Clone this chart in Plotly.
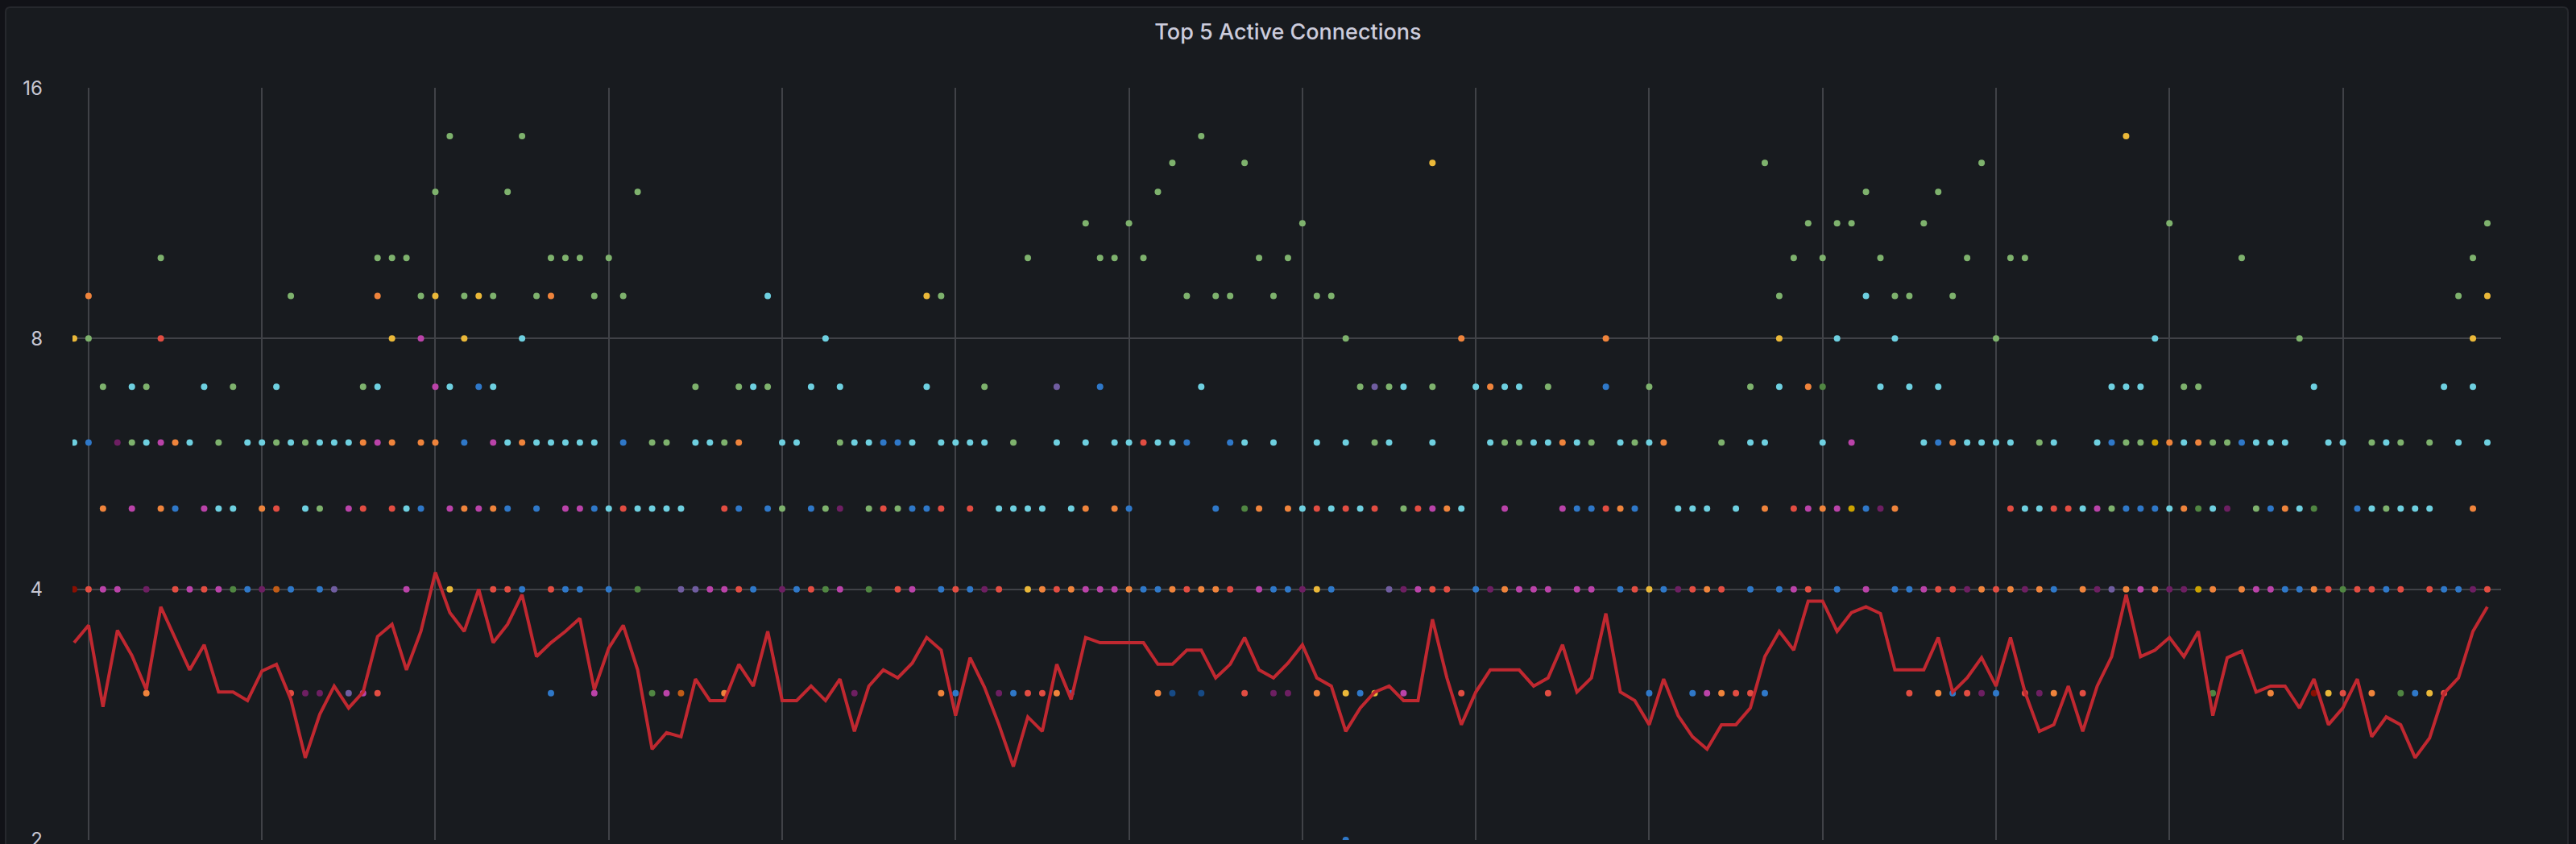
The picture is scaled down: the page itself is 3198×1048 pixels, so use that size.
import math

import pandas as pd
import plotly.graph_objects as go

TITLE = "Top 5 Active Connections"
START = "2024-05-14 09:55"
STEP = "5min"
N_SAMPLES = 168

# the one series that stays in the top 5 the whole time (drawn as a line)
line_values = [
    3.45, 3.62, 2.89, 3.57, 3.33, 3.03, 3.81, 3.49, 3.20, 3.43, 3.01, 3.01, 2.94, 3.19, 3.25, 2.95, 2.51, 2.83, 3.06, 2.88, 3.01,
    3.51, 3.63, 3.20, 3.56, 4.19, 3.75, 3.56, 4.00, 3.45, 3.63, 3.94, 3.32, 3.45, 3.56, 3.69, 3.03, 3.40, 3.62, 3.20, 2.57, 2.69,
    2.66, 3.12, 2.94, 2.94, 3.25, 3.06, 3.56, 2.94, 2.94, 3.06, 2.94, 3.12, 2.70, 3.06, 3.20, 3.13, 3.26, 3.50, 3.38, 2.82, 3.31,
    3.05, 2.75, 2.45, 2.81, 2.70, 3.25, 2.95, 3.50, 3.45, 3.45, 3.45, 3.45, 3.25, 3.25, 3.38, 3.38, 3.13, 3.25, 3.50, 3.20, 3.13,
    3.26, 3.43, 3.13, 3.06, 2.70, 2.88, 3.01, 3.06, 2.94, 2.94, 3.68, 3.13, 2.75, 3.01, 3.20, 3.20, 3.20, 3.06, 3.13, 3.43, 3.01,
    3.13, 3.74, 3.01, 2.94, 2.75, 3.12, 2.82, 2.66, 2.57, 2.75, 2.75, 2.88, 3.32, 3.56, 3.38, 3.87, 3.87, 3.56, 3.75, 3.81, 3.74,
    3.20, 3.20, 3.20, 3.50, 3.01, 3.13, 3.31, 3.06, 3.50, 3.01, 2.70, 2.75, 3.06, 2.70, 3.06, 3.32, 3.94, 3.32, 3.38, 3.50, 3.32,
    3.56, 2.82, 3.31, 3.37, 3.01, 3.06, 3.06, 2.88, 3.12, 2.75, 2.88, 3.12, 2.66, 2.81, 2.75, 2.51, 2.65, 3.00, 3.13, 3.56, 3.81,
]

# connections that only show up now and then: sample index -> value
green = {
    1: 8, 2: 7, 4: 6, 5: 7, 6: 10, 10: 6, 11: 7, 14: 6, 15: 9, 16: 6, 17: 5, 20: 7, 21: 10, 22: 10, 23: 10,
    24: 9, 25: 12, 26: 14, 27: 9, 29: 9, 30: 12, 31: 14, 32: 9, 33: 10, 34: 10, 35: 10, 36: 9, 37: 10, 38: 9,
    39: 12, 40: 6, 41: 6, 43: 7, 45: 6, 46: 7, 48: 7, 49: 5, 52: 5, 53: 6, 55: 5, 57: 5, 60: 9, 63: 7, 65: 6,
    66: 10, 70: 11, 71: 10, 72: 10, 73: 11, 74: 10, 75: 12, 76: 13, 77: 9, 78: 14, 79: 9, 80: 9, 81: 13, 82: 10,
    83: 9, 84: 10, 85: 11, 86: 9, 87: 9, 88: 8, 89: 7, 90: 6, 91: 7, 92: 5, 94: 7, 99: 6, 100: 6, 102: 7,
    105: 6, 108: 6, 109: 7, 114: 6, 116: 7, 117: 13, 118: 9, 119: 10, 120: 11, 121: 10, 122: 11, 123: 11,
    124: 12, 125: 10, 126: 9, 127: 9, 128: 11, 129: 12, 130: 9, 131: 10, 132: 13, 133: 8, 134: 10, 135: 10,
    136: 6, 141: 5, 142: 6, 143: 6, 145: 11, 146: 7, 147: 7, 148: 6, 149: 6, 150: 10, 151: 5, 154: 8, 159: 6,
    160: 5, 161: 6, 163: 6, 165: 9, 166: 10, 167: 11,
}
yellow = {
    0: 8, 22: 8, 25: 9, 26: 4, 27: 8, 28: 9, 59: 9, 66: 4, 86: 4, 88: 3, 90: 3, 94: 13, 109: 4, 118: 8,
    142: 14, 156: 3, 163: 3, 166: 8, 167: 9,
}
light_blue = {
    0: 6, 4: 7, 5: 6, 8: 6, 9: 7, 10: 5, 11: 5, 12: 6, 13: 6, 14: 7, 15: 6, 16: 5, 17: 6, 18: 6, 19: 6, 21: 7,
    23: 5, 26: 7, 29: 7, 30: 6, 31: 8, 32: 6, 33: 6, 34: 6, 35: 6, 36: 6, 37: 5, 39: 5, 40: 5, 41: 5, 42: 5,
    43: 6, 44: 6, 47: 7, 48: 9, 49: 6, 50: 6, 51: 7, 52: 8, 53: 7, 54: 6, 55: 6, 58: 6, 59: 7, 60: 6, 61: 6,
    62: 6, 63: 6, 64: 5, 65: 5, 66: 5, 67: 5, 68: 6, 69: 5, 70: 6, 72: 6, 73: 6, 75: 6, 76: 6, 78: 7, 81: 6,
    83: 6, 85: 5, 86: 6, 87: 5, 88: 6, 89: 5, 91: 6, 92: 7, 94: 6, 96: 5, 97: 7, 98: 6, 99: 7, 100: 7, 101: 6,
    102: 6, 104: 6, 107: 6, 109: 6, 111: 5, 112: 5, 113: 5, 115: 5, 116: 6, 117: 6, 118: 7, 121: 6, 122: 8,
    124: 9, 125: 7, 126: 8, 127: 7, 128: 6, 129: 7, 131: 6, 132: 6, 133: 6, 134: 6, 135: 5, 136: 5, 137: 6,
    139: 5, 140: 6, 141: 7, 142: 7, 143: 7, 144: 8, 145: 5, 146: 6, 148: 5, 151: 6, 152: 6, 153: 6, 154: 5,
    155: 7, 156: 6, 157: 6, 159: 5, 160: 6, 161: 5, 162: 5, 163: 5, 164: 7, 165: 6, 166: 7, 167: 6,
}
orange = {
    1: 9, 2: 5, 5: 3, 6: 5, 7: 6, 13: 5, 20: 6, 21: 9, 22: 6, 24: 6, 25: 6, 27: 5, 29: 5, 31: 6, 33: 9,
    45: 3, 46: 6, 60: 3, 67: 4, 68: 3, 69: 4, 70: 5, 72: 5, 73: 4, 75: 3, 76: 4, 78: 4, 79: 4, 82: 5, 84: 5,
    86: 3, 95: 5, 96: 8, 98: 7, 99: 4, 103: 6, 106: 8, 107: 5, 110: 6, 113: 4, 114: 3, 117: 5, 120: 7,
    121: 5, 126: 5, 129: 3, 130: 6, 132: 4, 134: 4, 136: 4, 137: 3, 139: 4, 142: 4, 144: 4, 145: 6, 146: 5,
    147: 6, 148: 4, 150: 4, 152: 3, 153: 5, 155: 4, 159: 3, 166: 5,
}
red = {
    1: 4, 6: 8, 7: 4, 9: 4, 14: 5, 15: 3, 20: 5, 21: 3, 22: 5, 29: 4, 30: 4, 33: 4, 38: 5, 45: 5, 46: 4,
    51: 4, 56: 5, 57: 4, 60: 5, 61: 4, 62: 5, 64: 4, 66: 3, 67: 3, 68: 4, 74: 6, 77: 4, 80: 4, 81: 3, 86: 5,
    88: 5, 90: 5, 93: 5, 94: 4, 95: 4, 96: 3, 102: 3, 106: 5, 108: 4, 112: 4, 114: 4, 115: 3, 116: 3,
    119: 5, 120: 4, 127: 3, 129: 4, 130: 4, 131: 3, 133: 4, 134: 5, 135: 3, 137: 5, 138: 5, 139: 3, 156: 4,
    157: 3, 158: 4, 159: 4, 161: 4, 163: 4, 164: 3, 167: 4,
}
blue = {
    1: 6, 7: 5, 12: 4, 15: 4, 17: 4, 24: 5, 27: 6, 28: 7, 30: 5, 31: 4, 32: 5, 33: 3, 34: 4, 35: 4, 36: 5,
    37: 4, 38: 6, 46: 5, 47: 4, 48: 5, 50: 4, 51: 5, 56: 6, 57: 6, 58: 5, 59: 5, 60: 4, 61: 3, 62: 4, 65: 3,
    69: 3, 71: 7, 73: 5, 74: 4, 75: 4, 77: 6, 79: 5, 80: 6, 83: 4, 84: 4, 87: 4, 88: 2, 89: 3, 97: 4,
    104: 5, 105: 5, 106: 7, 107: 4, 108: 5, 109: 3, 110: 4, 112: 3, 116: 4, 117: 3, 118: 4, 122: 4, 124: 5,
    126: 4, 127: 4, 129: 6, 130: 3, 133: 3, 137: 4, 141: 6, 142: 5, 143: 5, 144: 5, 150: 6, 152: 5, 153: 4,
    154: 4, 158: 5, 160: 4, 162: 3, 164: 4, 165: 4,
}
magenta = {
    2: 4, 3: 4, 4: 5, 6: 6, 8: 4, 9: 5, 10: 4, 19: 5, 20: 3, 21: 6, 23: 4, 24: 8, 25: 7, 26: 5, 28: 5,
    29: 6, 34: 5, 35: 5, 36: 3, 41: 3, 44: 4, 45: 4, 53: 4, 58: 4, 70: 4, 71: 4, 72: 4, 82: 4, 92: 3, 93: 4,
    94: 5, 99: 5, 100: 4, 101: 4, 102: 4, 103: 5, 104: 4, 105: 4, 113: 3, 119: 4, 120: 5, 122: 5, 123: 6,
    124: 4, 128: 4, 140: 5, 143: 4, 151: 4, 152: 4,
}
violet = {18: 4, 19: 3, 42: 4, 43: 4, 68: 7, 90: 7, 91: 4, 141: 4}
dark_green = {11: 4, 39: 4, 40: 3, 52: 4, 55: 4, 81: 5, 121: 7, 147: 5, 148: 3, 155: 5, 157: 4, 161: 3}
dark_yellow = {123: 5, 144: 6, 147: 4}
brown = {14: 4, 42: 3}
dark_red = {0: 4, 155: 3}
dark_blue = {76: 3, 78: 3}
dark_purple = {
    3: 6, 5: 4, 13: 4, 16: 3, 17: 3, 49: 4, 53: 5, 54: 3, 63: 4, 64: 3, 83: 3, 84: 3, 85: 4, 92: 4, 98: 4,
    111: 4, 125: 5, 131: 4, 132: 3, 135: 4, 136: 3, 140: 4, 145: 4, 146: 4, 149: 5, 166: 4,
}

point_series = [
    ("green", green, "#7EB26D"),
    ("yellow", yellow, "#EAB839"),
    ("light blue", light_blue, "#6ED0E0"),
    ("orange", orange, "#EF843C"),
    ("red", red, "#E24D42"),
    ("blue", blue, "#2F78C8"),
    ("magenta", magenta, "#BA43A9"),
    ("violet", violet, "#705DA0"),
    ("dark green", dark_green, "#508642"),
    ("dark yellow", dark_yellow, "#CCA300"),
    ("brown", brown, "#C15C17"),
    ("dark red", dark_red, "#890F02"),
    ("dark blue", dark_blue, "#164A85"),
    ("dark purple", dark_purple, "#6D1F62"),
]

Y_TICKS = [2, 4, 8, 16]

BG_OUTER = "#111217"
BG_PANEL = "#181b1f"
GRID = "#404247"
TEXT = "#ccccdc"

W, H = 3198, 1048
ML, MR, MT, MB = 90, 93, 109, 5

times = pd.date_range(START, periods=N_SAMPLES, freq=STEP)
step = times[1] - times[0]

fig = go.Figure()

for name, pts, color in point_series:
    idx = sorted(pts)
    fig.add_trace(
        go.Scatter(
            name=name,
            x=times[idx],
            y=[pts[i] for i in idx],
            mode="markers",
            marker=dict(color=color, size=8, line=dict(width=0)),
            hoverinfo="x+y",
        )
    )

fig.add_trace(
    go.Scatter(
        name="connections",
        x=times,
        y=line_values,
        mode="lines",
        line=dict(color="#C02830", width=4),
    )
)


# panel background with rounded corners, expressed in paper coordinates
def px_x(v):
    return (v - ML) / (W - ML - MR)


def px_y(v):
    return (H - MB - v) / (H - MT - MB)


x0, x1, y0, y1 = px_x(7), px_x(3188), px_y(1100), px_y(9)
rx, ry = 6 / (W - ML - MR), 6 / (H - MT - MB)
panel_path = (
    f"M {x0 + rx} {y1} L {x1 - rx} {y1} Q {x1} {y1} {x1} {y1 - ry} "
    f"L {x1} {y0} L {x0} {y0} L {x0} {y1 - ry} Q {x0} {y1} {x0 + rx} {y1} Z"
)
fig.add_shape(
    type="path",
    path=panel_path,
    xref="paper",
    yref="paper",
    fillcolor=BG_PANEL,
    line=dict(color="#26282d", width=2),
    layer="below",
)

fig.update_layout(
    width=W,
    height=H,
    margin=dict(l=ML, r=MR, t=MT, b=MB, autoexpand=False),
    paper_bgcolor=BG_OUTER,
    plot_bgcolor="rgba(0,0,0,0)",
    showlegend=False,
    font=dict(family="Inter, Roboto, sans-serif", color=TEXT),
    title=dict(
        text=TITLE,
        x=0.5,
        xanchor="center",
        y=1 - 40 / H,
        yanchor="middle",
        yref="container",
        font=dict(family="Inter, Roboto, sans-serif", size=27, color=TEXT, weight=500),
    ),
)

fig.update_xaxes(
    type="date",
    range=[times[0] - step * 0.11, times[0] + step * 167.95],
    showgrid=True,
    gridcolor=GRID,
    gridwidth=1.5,
    tick0=times[1],
    dtick=3600000,
    showticklabels=False,
    ticks="",
    zeroline=False,
    showline=False,
    automargin=False,
)

fig.update_yaxes(
    type="log",
    range=[math.log10(2) - 1e-4, math.log10(16) + 1e-4],
    tickvals=Y_TICKS,
    ticktext=[str(v) for v in Y_TICKS],
    tickfont=dict(size=24, color="#c7c7d3"),
    ticks="",
    ticklabelstandoff=36,
    ticklabeloverflow="allow",
    automargin=False,
    showgrid=True,
    gridcolor=GRID,
    gridwidth=1.5,
    zeroline=False,
    showline=False,
)

# the page's default body margin would leave a white frame round the figure
fig.write_html(
    "out.html",
    config={"displayModeBar": False},
    post_script="document.body.style.margin='0';document.body.style.background='#111217';",
)
